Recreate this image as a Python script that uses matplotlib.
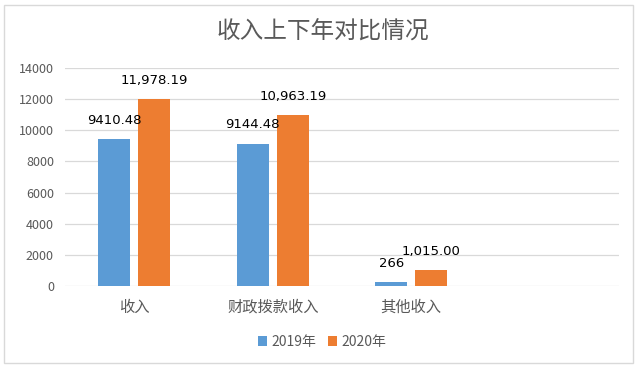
import matplotlib
matplotlib.use("Agg")
import matplotlib.pyplot as plt
from matplotlib.patches import Rectangle
import numpy as np

plt.rcParams['font.family'] = ['Noto Sans CJK SC', 'DejaVu Sans']

categories = ["收入", "财政拨款收入", "其他收入"]
v2019 = [9410.48, 9144.48, 266]
v2020 = [11978.19, 10963.19, 1015.00]
labels2019 = ["9410.48", "9144.48", "266"]
labels2020 = ["11,978.19", "10,963.19", "1,015.00"]
series_names = ["2019年", "2020年"]
yticks = [0, 2000, 4000, 6000, 8000, 10000, 12000, 14000]

c19 = "#5b9bd5"
c20 = "#ed7d31"
gray = "#595959"

fig = plt.figure(figsize=(6.43, 3.72), dpi=100)
fig.patches.append(Rectangle((4/643, 1-363/372), 629/643, 358/372, transform=fig.transFigure,
                             fill=False, edgecolor="#d9d9d9", linewidth=1))
ax = fig.add_axes([65/643, 1-286/372, 554/643, 218/372])

x = np.arange(len(categories))
w = 0.231
off = 0.144
b1 = ax.bar(x - off, v2019, w, color=c19, label=series_names[0], zorder=3)
b2 = ax.bar(x + off, v2020, w, color=c20, label=series_names[1], zorder=3)

for bars, labs in ((b1, labels2019), (b2, labels2020)):
    for rect, lab in zip(bars, labs):
        ax.annotate(lab, (rect.get_x() + rect.get_width()/2, rect.get_height()),
                    xytext=(0, 13.5), textcoords="offset points", ha="center", va="center",
                    fontsize=9.5, color="black", family="DejaVu Sans")

ax.set_xlim(-0.5, 3.5)
ax.set_ylim(0, 14000)
ax.set_yticks(yticks)
ax.set_yticklabels([str(t) for t in yticks])
ax.set_xticks(x)
ax.set_xticklabels(categories)
ax.tick_params(axis='both', length=0, colors=gray, labelsize=9)
ax.tick_params(axis='x', pad=9, labelsize=11)
ax.tick_params(axis='y', pad=8)
ax.grid(axis='y', color="#d9d9d9", linewidth=0.9, zorder=0)
for s in ax.spines.values():
    s.set_visible(False)

fig.text(323/643, 1-32/372, "收入上下年对比情况", ha="center", va="center", fontsize=17, color=gray)

leg = fig.legend(handles=[b1, b2], labels=series_names, loc="center", bbox_to_anchor=(322/643, 1-342/372),
                 ncol=2, frameon=False, fontsize=10, handlelength=0.7, handleheight=0.7,
                 handletextpad=0.3, columnspacing=0.8)
for t in leg.get_texts():
    t.set_color(gray)

fig.savefig("out.png", dpi=100)
